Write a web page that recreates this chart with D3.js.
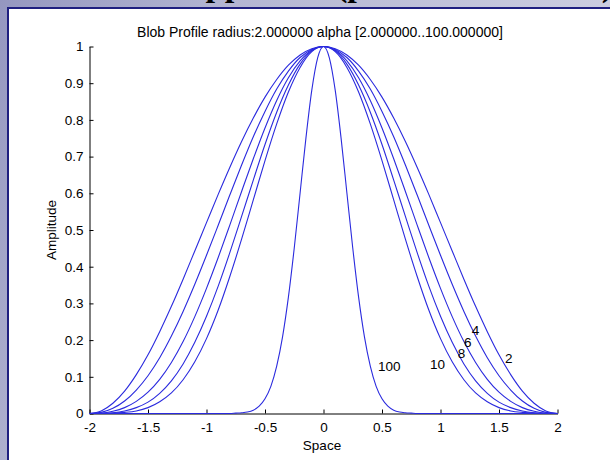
<!DOCTYPE html>
<html>
<head>
<meta charset="utf-8">
<script src="https://cdn.jsdelivr.net/npm/d3@7"></script>
<style>
  html, body { margin: 0; padding: 0; background: #fff; }
  svg { display: block; }
  .tick text, .lbl { font-family: "Liberation Sans", Arial, sans-serif; }
</style>
</head>
<body>
<svg id="chart" width="610" height="460"></svg>
<script>
// Sample positions along the blob radius axis
const xs = [-2.0, -1.9, -1.8, -1.7, -1.6, -1.5, -1.4, -1.3, -1.2, -1.1, -1.0,
            -0.9, -0.8, -0.7, -0.6, -0.5, -0.4, -0.3, -0.2, -0.1, 0.0,
             0.1,  0.2,  0.3,  0.4,  0.5,  0.6,  0.7,  0.8,  0.9, 1.0,
             1.1,  1.2,  1.3,  1.4,  1.5,  1.6,  1.7,  1.8,  1.9, 2.0];

// Profile amplitude for each taper parameter alpha
const alpha2 = [0.000, 0.007, 0.028, 0.061, 0.106, 0.160, 0.223, 0.292, 0.366, 0.443, 0.520,
                0.597, 0.671, 0.741, 0.805, 0.862, 0.910, 0.949, 0.977, 0.994, 1.000,
                0.994, 0.977, 0.949, 0.910, 0.862, 0.805, 0.741, 0.671, 0.597, 0.520,
                0.443, 0.366, 0.292, 0.223, 0.160, 0.106, 0.061, 0.028, 0.007, 0.000];
const alpha4 = [0.000, 0.003, 0.014, 0.034, 0.064, 0.103, 0.152, 0.211, 0.278, 0.352, 0.431,
                0.513, 0.596, 0.677, 0.754, 0.823, 0.884, 0.933, 0.970, 0.992, 1.000,
                0.992, 0.970, 0.933, 0.884, 0.823, 0.754, 0.677, 0.596, 0.513, 0.431,
                0.352, 0.278, 0.211, 0.152, 0.103, 0.064, 0.034, 0.014, 0.003, 0.000];
const alpha6 = [0.000, 0.001, 0.006, 0.016, 0.033, 0.058, 0.093, 0.139, 0.196, 0.264, 0.341,
                0.425, 0.514, 0.605, 0.694, 0.778, 0.853, 0.915, 0.961, 0.990, 1.000,
                0.990, 0.961, 0.915, 0.853, 0.778, 0.694, 0.605, 0.514, 0.425, 0.341,
                0.264, 0.196, 0.139, 0.093, 0.058, 0.033, 0.016, 0.006, 0.001, 0.000];
const alpha8 = [0.000, 0.000, 0.002, 0.007, 0.016, 0.031, 0.055, 0.089, 0.135, 0.194, 0.265,
                0.347, 0.439, 0.537, 0.636, 0.733, 0.821, 0.895, 0.952, 0.988, 1.000,
                0.988, 0.952, 0.895, 0.821, 0.733, 0.636, 0.537, 0.439, 0.347, 0.265,
                0.194, 0.135, 0.089, 0.055, 0.031, 0.016, 0.007, 0.002, 0.000, 0.000];
const alpha10 = [0.000, 0.000, 0.001, 0.003, 0.007, 0.016, 0.032, 0.056, 0.092, 0.141, 0.204,
                 0.282, 0.374, 0.475, 0.582, 0.689, 0.789, 0.876, 0.943, 0.986, 1.000,
                 0.986, 0.943, 0.876, 0.789, 0.689, 0.582, 0.475, 0.374, 0.282, 0.204,
                 0.141, 0.092, 0.056, 0.032, 0.016, 0.007, 0.003, 0.001, 0.000, 0.000];

// The sharpest profile needs a finer grid near the centre
const xsFine = [-2.0, -0.8, -0.75, -0.7, -0.65, -0.6, -0.55, -0.5, -0.45, -0.4, -0.35, -0.3,
                -0.25, -0.2, -0.15, -0.1, -0.05, 0.0, 0.05, 0.1, 0.15, 0.2, 0.25, 0.3,
                0.35, 0.4, 0.45, 0.5, 0.55, 0.6, 0.65, 0.7, 0.75, 0.8, 2.0];
const alpha100 = [0.000, 0.000, 0.001, 0.002, 0.004, 0.009, 0.020, 0.040, 0.074, 0.129, 0.209, 0.317,
                  0.451, 0.601, 0.751, 0.881, 0.969, 1.000, 0.969, 0.881, 0.751, 0.601, 0.451, 0.317,
                  0.209, 0.129, 0.074, 0.040, 0.020, 0.009, 0.004, 0.002, 0.001, 0.000, 0.000];

// Curve labels: text, x, y (data units, left / middle anchored)
const labelText = ["100", "10", "8", "6", "4", "2"];
const labelX = [0.466, 0.910, 1.147, 1.201, 1.267, 1.551];
const labelY = [0.129, 0.135, 0.165, 0.195, 0.227, 0.150];

const xTicks = [-2, -1.5, -1, -0.5, 0, 0.5, 1, 1.5, 2];
const yTicks = [0, 0.1, 0.2, 0.3, 0.4, 0.5, 0.6, 0.7, 0.8, 0.9, 1];

const titleText = "Blob Profile radius:2.000000 alpha [2.000000..100.000000]";
const slideTitle = "Blob approach (parameter choice)";

const series = [
  { x: xs, y: alpha2 },
  { x: xs, y: alpha4 },
  { x: xs, y: alpha6 },
  { x: xs, y: alpha8 },
  { x: xs, y: alpha10 },
  { x: xsFine, y: alpha100 }
];

const svg = d3.select("#chart");
const W = 610, H = 460;

// slide background
const defs = svg.append("defs");
const grad = defs.append("linearGradient").attr("id", "bg")
  .attr("x1", "0").attr("y1", "0").attr("x2", "1").attr("y2", "0.3");
grad.append("stop").attr("offset", "0").attr("stop-color", "#9597c0");
grad.append("stop").attr("offset", "0.35").attr("stop-color", "#b4b6d2");
grad.append("stop").attr("offset", "1").attr("stop-color", "#cfd0e2");
svg.append("rect").attr("width", W).attr("height", H).attr("fill", "url(#bg)");

// slide heading, mostly above the visible area
svg.append("text")
  .attr("x", 111).attr("y", -4.5)
  .attr("font-family", "'Liberation Serif', 'Times New Roman', serif")
  .attr("font-weight", "bold")
  .attr("font-size", 34.4)
  .attr("fill", "#000")
  .text(slideTitle);

// figure panel
svg.append("rect")
  .attr("x", 8).attr("y", 8).attr("width", 700).attr("height", 600)
  .attr("fill", "#ffffff")
  .attr("stroke", "#1f1f80").attr("stroke-width", 2);

const x = d3.scaleLinear().domain([-2, 2]).range([89.5, 557.5]);
const y = d3.scaleLinear().domain([0, 1]).range([413.5, 46.5]);

const fmt = d => String(d);

const xAxis = svg.append("g")
  .attr("transform", `translate(0,${y(0)})`)
  .call(d3.axisBottom(x).tickValues(xTicks).tickFormat(fmt)
        .tickSizeInner(-4).tickSizeOuter(0).tickPadding(9));
const yAxis = svg.append("g")
  .attr("transform", `translate(${x(-2)},0)`)
  .call(d3.axisLeft(y).tickValues(yTicks).tickFormat(fmt)
        .tickSizeInner(-4).tickSizeOuter(0).tickPadding(6));

[xAxis, yAxis].forEach(g => {
  g.selectAll("text").attr("font-size", 13.5).attr("fill", "#000")
    .attr("font-family", "'Liberation Sans', Arial, sans-serif");
  g.selectAll("line").attr("stroke", "#000");
  g.select(".domain").attr("stroke", "#000");
});

// profiles
const line = d3.line()
  .x(d => x(d[0]))
  .y(d => y(d[1]))
  .curve(d3.curveMonotoneX);

svg.append("g").selectAll("path")
  .data(series)
  .join("path")
  .attr("d", s => line(s.x.map((v, i) => [v, s.y[i]])))
  .attr("fill", "none")
  .attr("stroke", "#2a2ade")
  .attr("stroke-width", 1.1);

// curve labels
svg.append("g").selectAll("text")
  .data(labelText)
  .join("text")
  .attr("class", "lbl")
  .attr("x", (d, i) => x(labelX[i]))
  .attr("y", (d, i) => y(labelY[i]))
  .attr("dy", "0.35em")
  .attr("font-size", 13.5)
  .attr("fill", "#000")
  .text(d => d);

// title and axis labels
svg.append("text")
  .attr("x", 320).attr("y", 37)
  .attr("text-anchor", "middle")
  .attr("font-family", "'Liberation Sans', Arial, sans-serif")
  .attr("font-size", 14)
  .text(titleText);

svg.append("text")
  .attr("x", 322).attr("y", 449.5)
  .attr("text-anchor", "middle")
  .attr("font-family", "'Liberation Sans', Arial, sans-serif")
  .attr("font-size", 13.5)
  .text("Space");

svg.append("text")
  .attr("transform", `translate(56,${y(0.5)}) rotate(-90)`)
  .attr("text-anchor", "middle")
  .attr("font-family", "'Liberation Sans', Arial, sans-serif")
  .attr("font-size", 13.5)
  .text("Amplitude");
</script>
</body>
</html>
